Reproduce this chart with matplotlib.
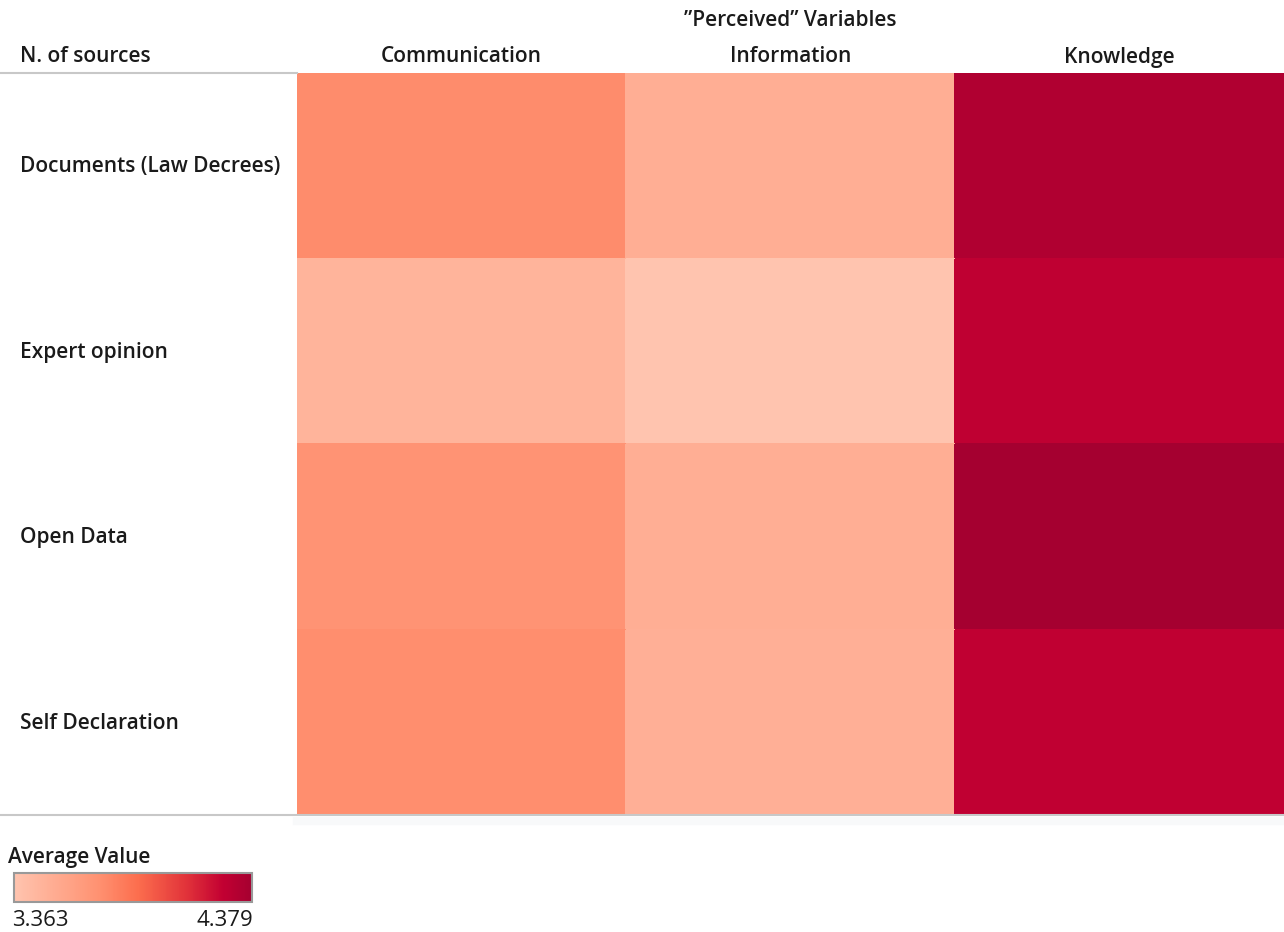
import numpy as np
import matplotlib
matplotlib.use('Agg')
import matplotlib.pyplot as plt
from matplotlib.colors import LinearSegmentedColormap, Normalize
from matplotlib.cm import ScalarMappable

plt.rcParams['font.family'] = ['Open Sans', 'DejaVu Sans']

sources = ['Documents (Law Decrees)', 'Expert opinion', 'Open Data', 'Self Declaration']
variables = ['Communication', 'Information', 'Knowledge']

# average values, one row per source
communication = [3.75, 3.48, 3.71, 3.74]
information = [3.52, 3.363, 3.52, 3.51]
knowledge = [4.33, 4.27, 4.379, 4.26]

vmin, vmax = 3.363, 4.379

W, H = 1284, 932

cmap = LinearSegmentedColormap.from_list('avg_red', [
    (0.0, '#FFC4AF'),
    (0.35, '#FF9272'),
    (0.52, '#FC6E4E'),
    (0.72, '#E2343A'),
    (0.88, '#C20032'),
    (1.0, '#A50030'),
])
norm = Normalize(vmin=vmin, vmax=vmax)


def fx(px):
    return px / W


def fy(py):
    return 1 - py / H


def box(x0, y0, x1, y1):
    return [fx(x0), fy(y1), fx(x1) - fx(x0), (y1 - y0) / H]


fig = plt.figure(figsize=(W / 100, H / 100), dpi=100)

grid = np.column_stack([communication, information, knowledge])

ax = fig.add_axes(box(297, 73, 1284, 815))
ax.pcolormesh(np.arange(len(variables) + 1), np.arange(len(sources) + 1),
              grid, cmap=cmap, norm=norm, edgecolor='face', linewidth=0.3)
ax.set_xlim(0, len(variables))
ax.set_ylim(len(sources), 0)
ax.axis('off')

# header and footer rules
fig.add_artist(plt.Line2D([0, fx(297)], [fy(73), fy(73)], color='#c8c8c8', lw=1.5))
fig.add_artist(plt.Line2D([0, 1], [fy(815), fy(815)], color='#c8c8c8', lw=1.5))
fig.add_artist(plt.Line2D([fx(297), 1], [fy(821), fy(821)], color='#f8f9fa', lw=6))

txt = dict(fontsize=15, fontweight='semibold', color='#1a1a1a')
fig.text(fx(790), fy(21), '\u201d' + 'Perceived' + '\u201d Variables', ha='center', va='center', **txt)
fig.text(fx(20), fy(57), 'N. of sources', ha='left', va='center', **txt)

col_w = (1284 - 297) / len(variables)
for i, name in enumerate(variables):
    fig.text(fx(297 + col_w * (i + 0.5)), fy(57), name, ha='center', va='center', **txt)

row_h = (815 - 73) / len(sources)
for j, name in enumerate(sources):
    fig.text(fx(20), fy(73 + row_h * (j + 0.5) + 1), name, ha='left', va='center', **txt)

# colour legend
fig.text(fx(8), fy(858), 'Average Value', ha='left', va='center', **txt)
cax = fig.add_axes(box(14, 873, 252, 902))
cb = fig.colorbar(ScalarMappable(norm=norm, cmap=cmap), cax=cax, orientation='horizontal')
cb.set_ticks([])
cb.outline.set_edgecolor('#999999')
cb.outline.set_linewidth(1.5)
fig.text(fx(12), fy(920), f'{vmin:.3f}', ha='left', va='center', fontsize=16, color='#1a1a1a')
fig.text(fx(253), fy(920), f'{vmax:.3f}', ha='right', va='center', fontsize=16, color='#1a1a1a')

fig.savefig('out.png', dpi=100)
